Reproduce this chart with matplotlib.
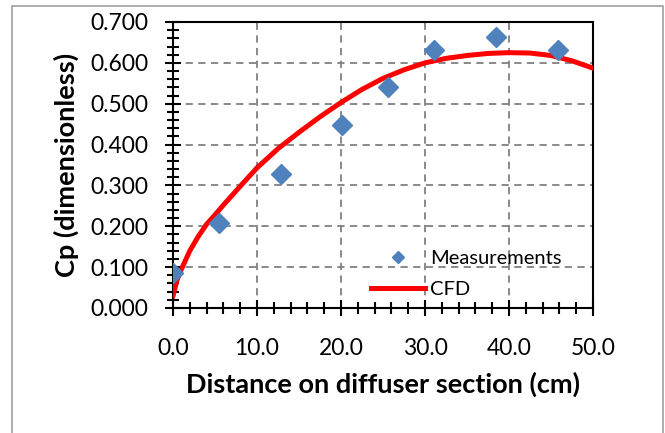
import matplotlib
matplotlib.use("Agg")
import matplotlib.pyplot as plt
from matplotlib.patches import Rectangle
from matplotlib.ticker import MultipleLocator, FormatStrFormatter

# measured Cp along the diffuser
meas_x = [0.0, 5.5, 12.9, 20.1, 25.6, 31.1, 38.5, 45.8]
meas_cp = [0.085, 0.207, 0.328, 0.449, 0.540, 0.631, 0.663, 0.631]

# CFD curve
cfd_x = [0.0, 0.5, 1.0, 2.0, 3.0, 4.0, 5.0, 6.0, 8.0, 10.0, 12.5, 15.0, 17.5,
         20.0, 22.5, 25.0, 27.5, 30.0, 32.5, 35.0, 37.5, 40.0, 42.5, 45.0,
         47.5, 50.0]
cfd_cp = [0.030, 0.070, 0.095, 0.140, 0.175, 0.205, 0.228, 0.252, 0.298,
          0.343, 0.390, 0.430, 0.468, 0.503, 0.535, 0.562, 0.583, 0.600,
          0.611, 0.618, 0.623, 0.625, 0.624, 0.618, 0.605, 0.587]

plt.rcParams['font.family'] = ['Lato', 'DejaVu Sans']

fig = plt.figure(figsize=(6.65, 4.33), dpi=100)
# gray outer frame like the spreadsheet chart area
fig.patches.append(Rectangle((12 / 665, -0.1), (663 - 12) / 665, 1.1 - 6 / 433,
                             transform=fig.transFigure, fill=False,
                             edgecolor='#a0a0a0', lw=1.2))

ax = fig.add_axes([173 / 665, (433 - 308) / 433, 420 / 665, 286 / 433])

ax.plot(cfd_x, cfd_cp, color='#ff0000', lw=3.6, label='CFD', zorder=3)
ax.plot(meas_x, meas_cp, 'D', color='#4f81bd', ms=10, label='Measurements',
        zorder=4)

ax.set_xlim(0, 50)
ax.set_ylim(0, 0.7)
ax.xaxis.set_major_locator(MultipleLocator(10))
ax.xaxis.set_minor_locator(MultipleLocator(2))
ax.yaxis.set_major_locator(MultipleLocator(0.1))
ax.yaxis.set_minor_locator(MultipleLocator(0.02))
ax.xaxis.set_major_formatter(FormatStrFormatter('%.1f'))
ax.yaxis.set_major_formatter(FormatStrFormatter('%.3f'))

ax.tick_params(which='both', direction='inout', width=1.5, color='black',
               labelsize=16.5)
ax.tick_params(which='major', length=11)
ax.tick_params(which='minor', length=9)
ax.tick_params(axis='x', pad=16)
ax.tick_params(axis='y', pad=12)

ax.grid(True, which='major', ls=(0, (4, 3)), color='#808080', lw=1.3)
for s in ax.spines.values():
    s.set_color('black')
    s.set_linewidth(1.5)

ax.set_xlabel('Distance on diffuser section (cm)', fontsize=19.5,
              fontweight='bold', labelpad=9)
ax.set_ylabel('Cp (dimensionless)', fontsize=19.5, fontweight='bold',
              labelpad=8)

h, l = ax.get_legend_handles_labels()
ax.legend(h[::-1], l[::-1], loc='lower right', frameon=False, fontsize=14.5,
          markerscale=0.65, handlelength=2.7, handletextpad=0.25,
          labelspacing=0.7, borderpad=0.3, borderaxespad=0.2,
          bbox_to_anchor=(0.95, 0.0))

fig.savefig('out.png', dpi=100)
